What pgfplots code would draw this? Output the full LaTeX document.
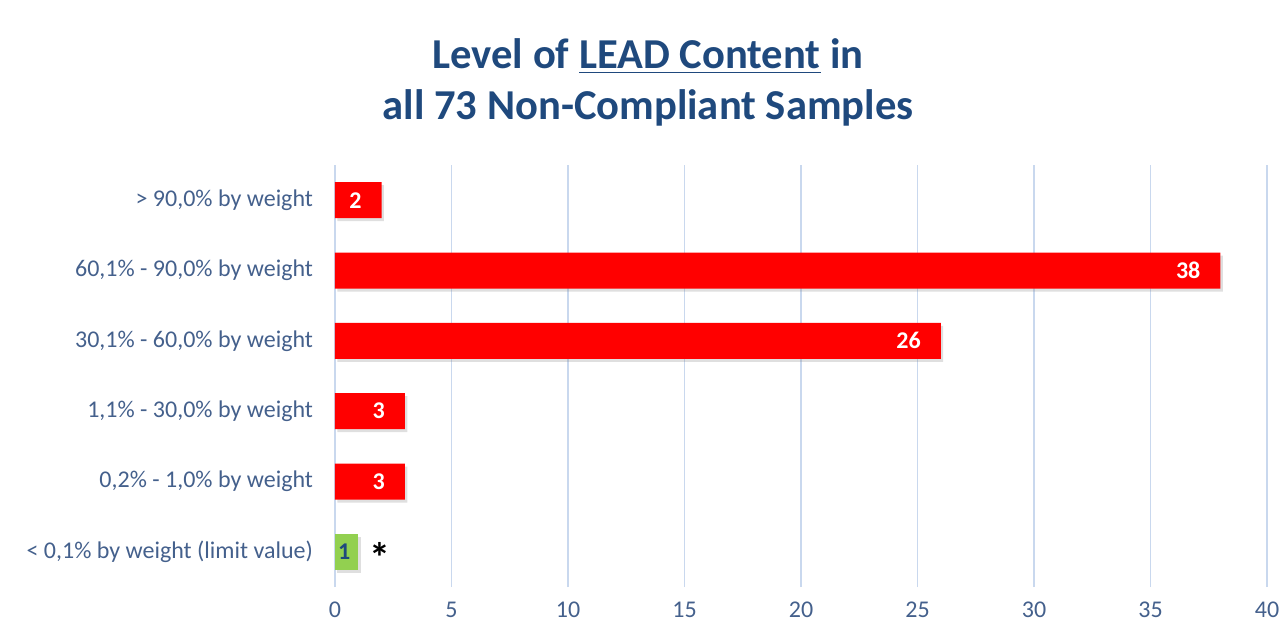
\documentclass[border=0pt]{standalone}
\usepackage{pgfplots}
\pgfplotsset{compat=1.18}
\usepackage{fontspec}
\setmainfont{Carlito}
\usetikzlibrary{shadows}
\definecolor{titleblue}{HTML}{1F497D}
\definecolor{lblblue}{HTML}{44608C}
\definecolor{gridblue}{HTML}{C9D8EE}
\definecolor{barred}{HTML}{FF0000}
\definecolor{bargreen}{HTML}{92D050}
\begin{document}
\begin{tikzpicture}[x=1pt,y=1pt]
\path[use as bounding box] (0,0) rectangle (642.5,319.5);
\node[anchor=base, font=\fontsize{21.3}{25}\selectfont\bfseries, text=titleblue] at (324,285) {Level of \underline{LEAD Content} in};
\node[anchor=base, font=\fontsize{21.3}{25}\selectfont\bfseries, text=titleblue] at (324,260) {all 73 Non-Compliant Samples};
\begin{axis}[
  at={(167.5pt,26pt)}, anchor=south west,
  scale only axis, width=466pt, height=211pt,
  xmin=0, xmax=40, ymin=-0.5, ymax=5.5,
  xtick={0,5,...,40},
  ytick={0,1,2,3,4,5},
  yticklabels={{< 0,1\% by weight (limit value)},{0,2\% - 1,0\% by weight},{1,1\% - 30,0\% by weight},{30,1\% - 60,0\% by weight},{60,1\% - 90,0\% by weight},{> 90,0\% by weight}},
  xmajorgrids, major grid style={gridblue, line width=0.8pt},
  axis line style={draw=none},
  major tick length=0pt,
  tick label style={font=\fontsize{12}{14}\selectfont, text=lblblue},
  yticklabel style={xshift=-7.5pt},
  xticklabel style={yshift=-4pt},
  /pgf/number format/assume math mode=true,
  xbar, bar width=18pt, bar shift=0pt,
  clip=false,
]
\addplot[draw=none, fill=barred, drop shadow={shadow xshift=1.2pt, shadow yshift=-1.5pt, opacity=0.25},
  nodes near coords, every node near coord/.append style={anchor=east, xshift=-6.5pt, font=\fontsize{12}{14}\selectfont\bfseries, text=white}]
  coordinates {(2,5) (38,4) (26,3) (3,2) (3,1)};
\addplot[draw=none, fill=bargreen, drop shadow={shadow xshift=1.2pt, shadow yshift=-1.5pt, opacity=0.25},
  nodes near coords, every node near coord/.append style={anchor=east, xshift=-0.5pt, font=\fontsize{12}{14}\selectfont\bfseries, text=titleblue}]
  coordinates {(1,0)};
\node[anchor=west, font=\fontsize{21}{23}\selectfont\bfseries, xshift=2pt, yshift=-3pt] at (axis cs:1,0) {*};
\end{axis}
\end{tikzpicture}
\end{document}
